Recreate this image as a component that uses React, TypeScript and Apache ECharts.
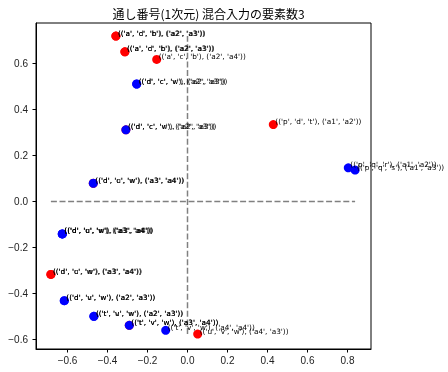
import React, { useEffect, useRef } from "react";
import * as echarts from "echarts";

const TITLE = "通し番号(1次元) 混合入力の要素数3";

const redX = [-0.358, -0.358, -0.313, -0.313, -0.154, -0.308, 0.429, -0.471, -0.683, -0.683, -0.291, 0.051];
const redY = [0.718, 0.718, 0.65, 0.65, 0.617, 0.311, 0.334, 0.079, -0.317, -0.317, -0.538, -0.576];
const redLabels = [
  "(('a', 'd', 'b'), ('a2', 'a3'))",
  "(('a', 'c', 'b'), ('a2', 'a3'))",
  "(('a', 'c', 'b'), ('a2', 'a3'))",
  "(('a', 'd', 'b'), ('a2', 'a3'))",
  "(('a', 'c', 'b'), ('a2', 'a4'))",
  "(('d', 'c', 'w'), ('a2', 'a3'))",
  "(('p', 'd', 't'), ('a1', 'a2'))",
  "(('d', 'c', 'w'), ('a3', 'a4'))",
  "(('d', 'u', 'w'), ('a3', 'a4'))",
  "(('d', 'c', 'w'), ('a3', 'a4'))",
  "(('t', 'v', 'w'), ('a3', 'a4'))",
  "(('u', 'v', 'w'), ('a4', 'a3'))",
];

const blueX = [-0.254, -0.254, -0.308, 0.804, 0.838, -0.471, -0.626, -0.626, -0.626, -0.616, -0.616, -0.468, -0.468, -0.291, -0.109];
const blueY = [0.51, 0.51, 0.311, 0.146, 0.136, 0.079, -0.141, -0.141, -0.141, -0.431, -0.431, -0.499, -0.499, -0.538, -0.56];
const blueLabels = [
  "(('d', 'c', 'w'), ('a2', 'a3'))",
  "(('d', 'c', 'v'), ('a2', 'a3'))",
  "(('d', 'c', 'v'), ('a2', 'a3'))",
  "(('p', 'q', 'r'), ('a1', 'a2'))",
  "(('p', 'q', 's'), ('a1', 'a3'))",
  "(('d', 'u', 'w'), ('a3', 'a4'))",
  "(('d', 'u', 'w'), ('a3', 'a4'))",
  "(('d', 'c', 'w'), ('a3', 'a4'))",
  "(('d', 'u', 'v'), ('a3', 'a4'))",
  "(('d', 'v', 'w'), ('a2', 'a3'))",
  "(('d', 'u', 'w'), ('a2', 'a3'))",
  "(('t', 'u', 'w'), ('a2', 'a3'))",
  "(('t', 'v', 'w'), ('a2', 'a3'))",
  "(('t', 'v', 'w'), ('a3', 'a4'))",
  "(('t', 'v', 'w'), ('a4', 'a4'))",
];

const xTicks = [-0.6, -0.4, -0.2, 0.0, 0.2, 0.4, 0.6, 0.8];
const yTicks = [-0.6, -0.4, -0.2, 0.0, 0.2, 0.4, 0.6];

const fmt = (v: number) => {
  const s = Number(v).toFixed(1);
  return s.startsWith("-") ? "\u2212" + s.slice(1) : s;
};

export default function App() {
  const ref = useRef<HTMLDivElement>(null);
  useEffect(() => {
    if (!ref.current) return;
    const chart = echarts.init(ref.current, null, { renderer: "svg" });
    const allX = [...redX, ...blueX];
    const allY = [...redY, ...blueY];
    const xmin = Math.min(...allX), xmax = Math.max(...allX);
    const ymin = Math.min(...allY), ymax = Math.max(...allY);
    const labelStyle = {
      show: true,
      formatter: "{b}",
      position: [6.5, 5] as any,
      align: "left",
      verticalAlign: "bottom",
      fontSize: 7.3,
      fontFamily: "DejaVu Sans",
      color: "#000",
    };
    const mk = (xs: number[], ys: number[], ls: string[]) =>
      xs.map((x, i) => ({ name: ls[i], value: [x, ys[i]] }));
    const dash = { color: "#808080", width: 1.5, type: [6, 2.6] as any };
    chart.setOption({
      animation: false,
      title: {
        text: TITLE,
        left: 203.5,
        textAlign: "center",
        top: 2,
        textStyle: { fontSize: 12, fontWeight: "normal", color: "#000", fontFamily: "Noto Sans CJK JP" },
      },
      grid: { left: 36, right: 77, top: 23, bottom: 23, show: true, borderColor: "#000", borderWidth: 1 },
      xAxis: {
        type: "value",
        min: -0.7575,
        max: 0.9175,
        splitLine: { show: false },
        axisLine: { show: true, onZero: false, lineStyle: { color: "#000", width: 1 } },
        axisTick: { show: true, customValues: xTicks, length: 3.5, lineStyle: { color: "#000" } },
        axisLabel: { customValues: xTicks, formatter: fmt, fontSize: 10, color: "#222", margin: 6, fontFamily: "Liberation Sans" },
      },
      yAxis: {
        type: "value",
        min: -0.641,
        max: 0.775,
        splitLine: { show: false },
        axisLine: { show: true, onZero: false, lineStyle: { color: "#000", width: 1 } },
        axisTick: { show: true, customValues: yTicks, length: 3.5, lineStyle: { color: "#000" } },
        axisLabel: { customValues: yTicks, formatter: fmt, fontSize: 10, color: "#222", margin: 8, fontFamily: "Liberation Sans" },
      },
      series: [
        { type: "line", silent: true, symbol: "none", data: [[xmin, 0], [xmax, 0]], lineStyle: dash, z: 1 },
        { type: "line", silent: true, symbol: "none", data: [[0, ymin], [0, ymax]], lineStyle: dash, z: 1 },
        {
          type: "scatter",
          symbolSize: 9,
          itemStyle: { color: "#ff0000", opacity: 1 },
          label: labelStyle,
          data: mk(redX, redY, redLabels),
          z: 2,
        },
        {
          type: "scatter",
          symbolSize: 9,
          itemStyle: { color: "#0000ff", opacity: 1 },
          label: labelStyle,
          data: mk(blueX, blueY, blueLabels),
          z: 3,
        },
      ],
    });
    return () => chart.dispose();
  }, []);
  return <div ref={ref} style={{ position: "fixed", left: 0, top: 0, width: 448, height: 372 }} />;
}
